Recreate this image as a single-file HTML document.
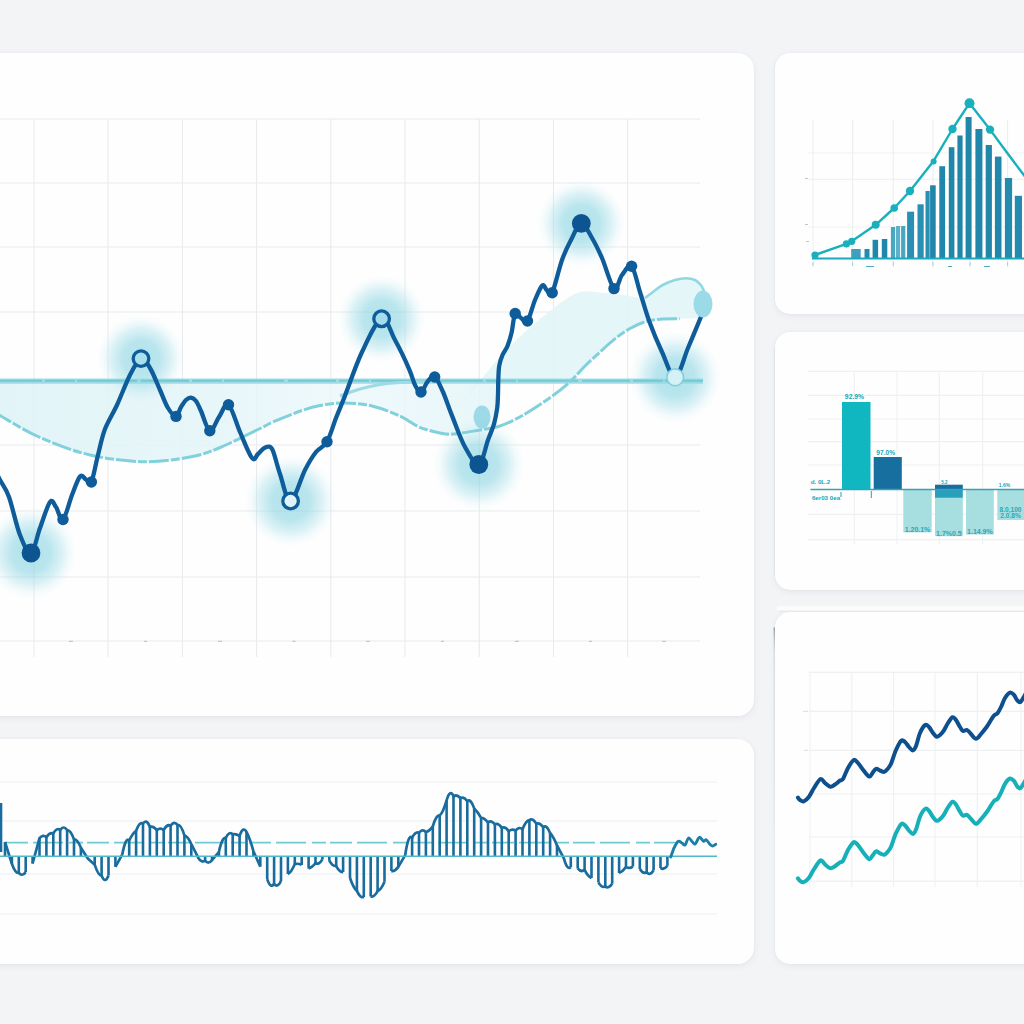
<!DOCTYPE html>
<html>
<head>
<meta charset="utf-8">
<title>Dashboard</title>
<style>
  html, body { margin: 0; padding: 0; }
  body {
    width: 1024px; height: 1024px; overflow: hidden;
    background: #f3f4f6;
    font-family: "Liberation Sans", sans-serif;
    position: relative;
  }
  .card {
    position: absolute;
    background: #fefefe;
    box-shadow: 0 2px 6px rgba(120,125,140,0.10), 0 0 2px rgba(120,125,140,0.08);
  }
  #c-main   { left: -20px; top: 53px;  width: 774px; height: 663px; border-radius: 16px; }
  #c-wave   { left: -20px; top: 739px; width: 774px; height: 225px; border-radius: 16px; }
  #c-bars   { left: 775px; top: 53px;  width: 280px; height: 261px; border-radius: 15px; }
  #c-water  { left: 775px; top: 332px; width: 280px; height: 258px; border-radius: 15px; }
  #c-lines  { left: 775px; top: 612px; width: 280px; height: 352px; border-radius: 15px; }
  svg#art { position: absolute; left: 0; top: 0; width: 1024px; height: 1024px; }
</style>
</head>
<body>
  <div class="card" id="c-main"></div>
  <div class="card" id="c-wave"></div>
  <div class="card" id="c-bars"></div>
  <div class="card" id="c-water"></div>
  <div class="card" id="c-lines"></div>

  <svg id="art" viewBox="0 0 1024 1024">
    <defs>
      <radialGradient id="glow">
        <stop offset="0" stop-color="#7ccfdf" stop-opacity="0.60"/>
        <stop offset="0.42" stop-color="#84d2e1" stop-opacity="0.56"/>
        <stop offset="0.68" stop-color="#9bdbe7" stop-opacity="0.36"/>
        <stop offset="0.87" stop-color="#b9e7ef" stop-opacity="0.13"/>
        <stop offset="1" stop-color="#c8edf3" stop-opacity="0"/>
      </radialGradient>
      <linearGradient id="edge3" x1="0" x2="0" y1="0" y2="1">
        <stop offset="0" stop-color="#6f727a" stop-opacity="0.85"/>
        <stop offset="0.05" stop-color="#8b8e96" stop-opacity="0.6"/>
        <stop offset="0.12" stop-color="#c3c6cc" stop-opacity="0.55"/>
        <stop offset="1" stop-color="#d9dbe0" stop-opacity="0.25"/>
      </linearGradient>
      <linearGradient id="fillL" x1="0" x2="1" y1="0" y2="0">
        <stop offset="0" stop-color="#dff3f7" stop-opacity="0.9"/>
        <stop offset="0.45" stop-color="#e3f5f8" stop-opacity="0.85"/>
        <stop offset="0.7" stop-color="#e9f7fa" stop-opacity="0.7"/>
        <stop offset="1" stop-color="#e3f5f8" stop-opacity="0.85"/>
      </linearGradient>
    </defs>
    <g id="card-edges">
      <rect x="776.5" y="605.8" width="260" height="5" rx="2.5" fill="#fbfbfc"/>
      <path d="M779 611.2H1024" stroke="#e3e5e9" stroke-width="1"/>
      <rect x="773.7" y="627.5" width="1.1" height="200" fill="url(#edge3)"/>
      <rect x="774" y="347" width="1" height="228" fill="#dcdee3" fill-opacity="0.6"/>
    </g>
    <g id="main-grid" stroke="#e8eaee" stroke-width="1.05" fill="none">
      <path d="M0 119H700 M0 183H700 M0 247H700 M0 312H700 M0 445H700 M0 511H700 M0 577H700 M0 641H700"/>
      <path d="M34 119V657 M108 119V657 M182.4 119V657 M256.6 119V657 M330.8 119V657 M405 119V657 M479.3 119V657 M553.5 119V657 M627.7 119V657"/>
      <path d="M69 641.4h4 M144 641.4h3 M218 641.4h4 M292.5 641.4h3 M366 641.4h4 M441 641.4h3 M515 641.4h4 M589 641.4h3 M662 641.4h4" stroke="#c5c8ce" stroke-width="1.2"/>
    </g>
    <g id="main-chart" fill="none">
      <path d="M-6 381H497L497.0 427.0C494.2 427.5 487.2 428.8 480.0 430.0C472.8 431.2 460.7 433.5 454.0 434.0C447.3 434.5 445.8 434.2 440.0 433.0C434.2 431.8 425.7 429.8 419.0 427.0C412.3 424.2 407.8 419.5 400.0 416.0C392.2 412.5 381.3 408.2 372.0 406.0C362.7 403.8 352.7 403.1 344.0 403.0C335.3 402.9 327.0 404.2 320.0 405.5C313.0 406.8 309.8 407.8 302.0 410.5C294.2 413.2 280.2 418.9 273.0 422.0C265.8 425.1 268.0 424.7 259.0 429.0C250.0 433.3 230.5 443.3 219.0 448.0C207.5 452.7 202.4 454.7 190.0 457.0C177.6 459.3 161.2 462.0 144.5 461.7C127.8 461.4 107.6 459.1 90.0 455.0C72.4 450.9 54.0 443.6 39.0 437.0C24.0 430.4 7.5 419.7 0.0 415.5C-7.5 411.3 -5.0 412.6 -6.0 412.0Z" fill="url(#fillL)"/>
      <path d="M460.0 405.0C463.0 401.5 471.6 391.8 478.0 384.0C484.4 376.2 490.8 366.7 498.6 358.0C506.4 349.3 515.3 340.8 525.0 332.0C534.7 323.2 548.7 311.8 557.0 305.5C565.3 299.2 570.1 296.4 575.0 294.0C579.9 291.6 581.5 291.6 586.5 291.4C591.5 291.2 599.1 292.4 605.0 293.0C610.9 293.6 615.0 294.2 621.7 295.0C628.4 295.8 639.8 298.5 645.0 298.0C650.2 297.5 650.0 294.2 653.0 292.0C656.0 289.8 659.0 287.0 662.7 285.0C666.4 283.0 671.1 281.1 675.0 280.0C678.9 278.9 682.7 278.3 686.0 278.3C689.3 278.3 692.5 278.9 695.0 280.0C697.5 281.1 699.3 283.2 700.8 285.0C702.3 286.8 703.5 290.0 704.0 291.0L700 318L680 318.8L680.0 318.8C676.7 318.9 665.8 318.7 660.0 319.2C654.2 319.7 650.0 320.2 645.0 321.8C640.0 323.4 634.8 325.8 630.0 328.5C625.2 331.2 621.0 334.1 616.0 338.0C611.0 341.9 605.2 347.3 600.0 352.0C594.8 356.7 589.9 361.1 585.0 366.0C580.1 370.9 572.9 378.8 570.5 381.3L570.5 381H478Z" fill="#e0f4f7" fill-opacity="0.85"/>
    <g id="main-glows">
      <circle cx="31" cy="553" r="46" fill="url(#glow)"/>
      <circle cx="141" cy="358.6" r="44" fill="url(#glow)"/>
      <circle cx="290.6" cy="501" r="46" fill="url(#glow)"/>
      <circle cx="381.6" cy="318.75" r="44" fill="url(#glow)"/>
      <circle cx="478.8" cy="464.5" r="46" fill="url(#glow)"/>
      <circle cx="581.3" cy="223.4" r="44" fill="url(#glow)"/>
      <circle cx="675.2" cy="377.3" r="46" fill="url(#glow)"/>
    </g>
      <path d="M-6 381.2H703" stroke="#96d8e1" stroke-width="5.2" stroke-opacity="0.9"/>
      <path d="M-6 380.8H703" stroke="#66c2d0" stroke-width="2" stroke-opacity="0.75" stroke-dasharray="48 3 30 2 60 4"/>
      <path d="M-6.0 412.0C-5.0 412.6 -7.5 411.3 0.0 415.5C7.5 419.7 24.0 430.4 39.0 437.0C54.0 443.6 72.4 450.9 90.0 455.0C107.6 459.1 127.8 461.4 144.5 461.7C161.2 462.0 177.6 459.3 190.0 457.0C202.4 454.7 207.5 452.7 219.0 448.0C230.5 443.3 250.0 433.3 259.0 429.0C268.0 424.7 265.8 425.1 273.0 422.0C280.2 418.9 294.2 413.2 302.0 410.5C309.8 407.8 313.0 406.8 320.0 405.5C327.0 404.2 335.3 402.9 344.0 403.0C352.7 403.1 362.7 403.8 372.0 406.0C381.3 408.2 392.2 412.5 400.0 416.0C407.8 419.5 412.3 424.2 419.0 427.0C425.7 429.8 434.2 431.8 440.0 433.0C445.8 434.2 447.3 434.5 454.0 434.0C460.7 433.5 472.6 431.2 480.0 430.0C487.4 428.8 492.8 428.2 498.6 426.5C504.4 424.8 509.8 422.1 515.0 419.5C520.2 416.9 524.0 414.8 530.0 411.0C536.0 407.2 544.2 401.9 551.0 397.0C557.8 392.1 564.8 386.5 570.5 381.3C576.2 376.1 580.1 370.9 585.0 366.0C589.9 361.1 594.8 356.7 600.0 352.0C605.2 347.3 611.0 341.9 616.0 338.0C621.0 334.1 625.2 331.2 630.0 328.5C634.8 325.8 640.0 323.4 645.0 321.8C650.0 320.2 654.2 319.7 660.0 319.2C665.8 318.7 676.7 318.9 680.0 318.8" stroke="#80d1dc" stroke-width="3" stroke-dasharray="20 2 9 2"/>
      <path d="M340.0 396.0C343.3 394.8 353.3 390.9 360.0 389.0C366.7 387.1 373.3 385.6 380.0 384.5C386.7 383.4 391.7 383.0 400.0 382.5C408.3 382.0 425.0 381.7 430.0 381.5" stroke="#9ddbe5" stroke-width="3"/>
      <path d="M645.0 298.0C646.3 297.0 650.0 294.2 653.0 292.0C656.0 289.8 659.0 287.0 662.7 285.0C666.4 283.0 671.1 281.1 675.0 280.0C678.9 278.9 682.7 278.3 686.0 278.3C689.3 278.3 692.5 278.9 695.0 280.0C697.5 281.1 699.3 283.2 700.8 285.0C702.3 286.8 703.5 290.0 704.0 291.0" stroke="#8fd7e1" stroke-width="2.6"/>
      <ellipse cx="482" cy="417" rx="8.5" ry="11.5" fill="#8fd4e3" fill-opacity="0.85"/>
      <path d="M-6.0 468.0C-5.0 470.0 -2.5 475.2 0.0 480.0C2.5 484.8 5.7 487.8 9.0 497.0C12.3 506.2 16.3 525.7 20.0 535.0C23.7 544.3 27.7 554.2 31.0 553.0C34.3 551.8 36.8 536.5 40.0 528.0C43.2 519.5 47.3 505.5 50.0 502.0C52.7 498.5 53.8 504.1 56.0 507.0C58.2 509.9 60.3 521.5 63.0 519.5C65.7 517.5 69.2 502.2 72.0 495.0C74.8 487.8 77.7 479.1 80.0 476.5C82.3 473.9 84.1 478.6 86.0 479.5C87.9 480.4 89.4 486.1 91.4 482.0C93.4 477.9 95.7 463.8 98.0 455.0C100.3 446.2 101.8 437.3 105.0 429.0C108.2 420.7 112.8 414.0 117.0 405.0C121.2 396.0 126.0 382.7 130.0 375.0C134.0 367.3 137.7 359.8 141.0 358.6C144.3 357.4 146.8 362.8 150.0 368.0C153.2 373.2 157.0 383.3 160.0 390.0C163.0 396.7 165.3 403.6 168.0 408.0C170.7 412.4 173.8 416.6 176.0 416.4C178.2 416.2 179.3 409.7 181.0 407.0C182.7 404.3 184.3 401.6 186.0 400.0C187.7 398.4 189.3 397.4 191.0 397.6C192.7 397.8 194.3 398.8 196.0 401.0C197.7 403.2 198.7 406.0 201.0 411.0C203.3 416.0 206.8 429.8 209.8 430.8C212.8 431.8 215.9 421.4 219.0 417.0C222.1 412.6 225.0 402.2 228.5 404.7C232.0 407.2 236.1 423.1 240.0 432.0C243.9 440.9 249.0 454.3 252.0 458.0C255.0 461.7 256.1 455.6 258.0 454.0C259.9 452.4 261.7 449.7 263.5 448.5C265.3 447.3 267.1 446.2 268.7 446.6C270.3 447.0 271.1 446.4 273.0 451.0C274.9 455.6 277.1 465.7 280.0 474.0C282.9 482.3 286.4 501.7 290.6 501.0C294.8 500.3 300.8 478.2 305.0 470.0C309.2 461.8 312.3 456.7 316.0 452.0C319.7 447.3 323.7 447.5 327.0 441.8C330.3 436.1 333.0 425.7 336.0 418.0C339.0 410.3 340.7 406.7 345.0 395.7C349.3 384.7 355.9 364.8 362.0 352.0C368.1 339.2 376.1 320.8 381.6 318.8C387.1 316.8 390.4 331.7 395.0 340.0C399.6 348.3 405.7 361.2 409.0 368.8C412.3 376.2 413.0 381.1 415.0 385.0C417.0 388.9 418.8 392.7 421.0 392.0C423.2 391.3 425.7 383.6 428.0 381.0C430.3 378.4 432.2 374.7 434.7 376.5C437.2 378.3 440.1 385.5 443.0 392.0C445.9 398.5 448.3 406.4 452.0 415.6C455.7 424.8 460.5 438.9 465.0 447.0C469.5 455.1 475.0 465.7 478.8 464.5C482.6 463.3 485.5 446.8 488.0 440.0C490.5 433.2 492.5 429.3 494.0 424.0C495.5 418.7 496.5 413.0 497.2 408.0C497.9 403.0 497.8 398.7 498.0 394.0C498.2 389.3 498.1 384.7 498.3 380.0C498.5 375.3 498.5 370.2 499.2 366.0C499.9 361.8 501.1 358.3 502.5 355.0C503.9 351.7 506.0 349.7 507.5 346.0C509.0 342.3 510.2 338.4 511.5 333.0C512.8 327.6 513.6 316.0 515.2 313.5C516.8 311.0 519.0 316.8 521.0 318.0C523.0 319.2 525.2 324.0 527.5 321.0C529.8 318.0 532.5 305.9 535.0 300.0C537.5 294.1 540.3 287.1 542.3 285.5C544.3 283.9 545.4 289.3 547.0 290.5C548.6 291.7 549.7 297.9 552.2 292.8C554.7 287.7 558.9 268.8 562.0 260.0C565.1 251.2 567.8 246.1 571.0 240.0C574.2 233.9 577.8 223.7 581.3 223.4C584.8 223.1 588.5 232.2 592.0 238.0C595.5 243.8 598.3 249.6 602.0 258.0C605.7 266.4 610.7 285.8 614.0 288.6C617.3 291.4 619.1 278.7 622.0 275.0C624.9 271.3 628.6 263.5 631.6 266.3C634.6 269.1 637.0 282.7 640.0 292.0C643.0 301.3 645.8 312.0 649.5 322.0C653.2 332.0 657.7 342.8 662.0 352.0C666.3 361.2 670.9 378.0 675.2 377.3C679.5 376.6 683.8 357.9 688.0 348.0C692.2 338.1 698.2 323.7 700.5 318.0C702.8 312.3 701.8 314.7 702.0 314.0" stroke="#0f5c9a" stroke-width="4.3" stroke-linecap="round" stroke-linejoin="round"/>
      <ellipse cx="703" cy="304" rx="9.5" ry="13.6" fill="#9bdbe8"/>
      <circle cx="63" cy="519.5" r="5.7" fill="#0f5c9a"/>
      <circle cx="91.4" cy="482" r="5.7" fill="#0f5c9a"/>
      <circle cx="176" cy="416.4" r="5.7" fill="#0f5c9a"/>
      <circle cx="209.8" cy="430.8" r="5.7" fill="#0f5c9a"/>
      <circle cx="228.5" cy="404.7" r="5.7" fill="#0f5c9a"/>
      <circle cx="327" cy="441.8" r="5.7" fill="#0f5c9a"/>
      <circle cx="421" cy="392" r="5.7" fill="#0f5c9a"/>
      <circle cx="434.7" cy="377" r="5.7" fill="#0f5c9a"/>
      <circle cx="515.2" cy="313.5" r="5.7" fill="#0f5c9a"/>
      <circle cx="527.5" cy="321" r="5.7" fill="#0f5c9a"/>
      <circle cx="552.2" cy="292.8" r="5.7" fill="#0f5c9a"/>
      <circle cx="614" cy="288.6" r="5.7" fill="#0f5c9a"/>
      <circle cx="631.6" cy="266.3" r="5.7" fill="#0f5c9a"/>
      <circle cx="31" cy="553" r="9.4" fill="#0d5591"/>
      <circle cx="478.8" cy="464.5" r="9.4" fill="#0d5591"/>
      <circle cx="581.3" cy="223.4" r="9.4" fill="#0d5591"/>
      <circle cx="141" cy="358.6" r="7.8" fill="#aadfec" stroke="#0f5c9a" stroke-width="3.3"/>
      <circle cx="290.6" cy="501" r="7.8" fill="#dff4f9" stroke="#0f5c9a" stroke-width="3.3"/>
      <circle cx="381.6" cy="318.75" r="7.8" fill="#a3dcea" stroke="#0f5c9a" stroke-width="3.3"/>
      <circle cx="675.2" cy="377.3" r="8.4" fill="#d6f1f6" stroke="#7fd0dc" stroke-width="1.6"/>
    </g>
    <g id="wave-chart" fill="none">
      <path d="M0 782H717 M0 821H717 M0 874H717 M0 914H717" stroke="#ebedef" stroke-width="1.2"/>
      <path d="M6 842.6H682" stroke="#6ecbd4" stroke-width="1.6" stroke-dasharray="22 5 30 6 14 4"/>
      <path d="M5.0 856V842.0M11.9 856V863.8M18.8 856V872.8M25.7 856V872.1M32.6 856V863.5M39.5 856V838.2M46.4 856V837.1M53.3 856V833.4M60.2 856V830.0M67.1 856V830.1M74.0 856V839.2M80.9 856V847.7M94.7 856V864.7M101.6 856V875.8M108.5 856V875.5M115.4 856V866.8M129.2 856V840.5M136.1 856V830.8M143.0 856V823.6M149.9 856V826.9M156.8 856V830.1M163.7 856V830.0M170.6 856V825.7M177.5 856V824.9M184.4 856V835.3M191.3 856V844.0M205.1 856V860.5M212.0 856V860.2M218.9 856V852.0M225.8 856V838.0M232.7 856V834.3M239.6 856V835.9M246.5 856V831.9M253.4 856V851.2M260.3 856V866.6M267.2 856V879.1M274.1 856V883.8M281.0 856V881.0M287.9 856V873.9M294.8 856V864.1M301.7 856V864.9M308.6 856V868.4M315.5 856V863.0M322.4 856V859.4M329.3 856V860.7M336.2 856V866.2M343.1 856V872.0M350.0 856V878.0M356.9 856V890.9M363.8 856V896.9M370.7 856V896.4M377.6 856V891.2M384.5 856V881.7M391.4 856V870.9M398.3 856V866.9M412.1 856V837.9M419.0 856V832.8M425.9 856V832.0M432.8 856V826.4M439.7 856V815.5M446.6 856V800.4M453.5 856V796.4M460.4 856V798.2M467.3 856V801.2M474.2 856V808.4M481.1 856V817.9M488.0 856V822.5M494.9 856V824.4M501.8 856V827.9M508.7 856V831.3M515.6 856V830.6M522.5 856V829.3M529.4 856V820.2M536.3 856V823.7M543.2 856V827.3M550.1 856V832.9M557.0 856V845.5M570.8 856V867.1M577.7 856V868.4M584.6 856V869.9M591.5 856V877.9M598.4 856V882.3M605.3 856V886.6M612.2 856V883.7M619.1 856V872.9M626.0 856V867.1M632.9 856V866.6M639.8 856V868.9M646.7 856V872.3M653.6 856V870.2M660.5 856V867.9M667.4 856V865.7" stroke="#196c9d" stroke-width="2.6"/>
      <path d="M1 803V852" stroke="#196c9d" stroke-width="2.6"/>
      <path d="M5.0 842.0L11.9 863.8Q15.4 873.9 18.8 872.8Q22.2 877.0 25.7 872.1M32.6 863.5L39.5 838.2Q43.0 834.0 46.4 837.1Q49.8 832.4 53.3 833.4Q56.8 827.1 60.2 830.0Q63.6 825.0 67.1 830.1Q70.5 829.7 74.0 839.2Q77.5 839.5 80.9 847.7L87.8 858.5L94.7 864.7Q98.2 875.7 101.6 875.8Q105.1 884.3 108.5 875.5M115.4 866.8L122.3 854.3Q125.8 836.5 129.2 840.5Q132.7 832.9 136.1 830.8Q139.6 821.1 143.0 823.6Q146.5 818.2 149.9 826.9Q153.4 825.9 156.8 830.1Q160.3 827.1 163.7 830.0Q167.2 823.8 170.6 825.7Q174.1 820.4 177.5 824.9Q181.0 824.2 184.4 835.3Q187.9 836.6 191.3 844.0L198.2 857.7Q201.7 863.4 205.1 860.5Q208.6 864.7 212.0 860.2L218.9 852.0Q222.4 836.4 225.8 838.0Q229.3 830.7 232.7 834.3Q236.2 833.7 239.6 835.9Q243.1 825.6 246.5 831.9Q250.0 838.6 253.4 851.2L260.3 866.6M267.2 879.1Q270.7 889.3 274.1 883.8Q277.6 888.3 281.0 881.0M287.9 873.9Q291.4 872.4 294.8 864.1Q298.2 863.1 301.7 864.9M308.6 868.4Q312.0 867.7 315.5 863.0Q318.9 865.2 322.4 859.4M329.3 860.7Q332.7 866.6 336.2 866.2Q339.6 872.5 343.1 872.0M350.0 878.0Q353.4 888.0 356.9 890.9Q360.3 898.7 363.8 896.9M370.7 896.4Q374.1 897.7 377.6 891.2Q381.0 889.9 384.5 881.7M391.4 870.9Q394.8 871.8 398.3 866.9L405.2 855.1Q408.6 832.7 412.1 837.9Q415.5 831.2 419.0 832.8Q422.4 828.3 425.9 832.0Q429.3 831.3 432.8 826.4Q436.2 814.5 439.7 815.5Q443.1 812.6 446.6 800.4Q450.0 788.2 453.5 796.4Q456.9 794.0 460.4 798.2Q463.8 796.1 467.3 801.2Q470.7 798.2 474.2 808.4Q477.6 811.5 481.1 817.9Q484.5 817.9 488.0 822.5Q491.4 819.7 494.9 824.4Q498.3 822.7 501.8 827.9Q505.2 826.1 508.7 831.3Q512.1 828.5 515.6 830.6Q519.0 826.2 522.5 829.3Q525.9 820.7 529.4 820.2Q532.8 817.6 536.3 823.7Q539.7 822.5 543.2 827.3Q546.6 824.1 550.1 832.9Q553.5 836.8 557.0 845.5L563.9 858.4Q567.3 870.8 570.8 867.1M577.7 868.4Q581.1 872.6 584.6 869.9Q588.0 876.9 591.5 877.9M598.4 882.3Q601.8 888.2 605.3 886.6Q608.7 888.9 612.2 883.7M619.1 872.9Q622.5 871.7 626.0 867.1Q629.4 869.0 632.9 866.6M639.8 868.9Q643.2 874.1 646.7 872.3Q650.1 876.1 653.6 870.2M660.5 867.9Q663.9 870.4 667.4 865.7" stroke="#196c9d" stroke-width="2.7" stroke-linejoin="round"/>
      <path d="M0 856.3H717" stroke="#4fb9cb" stroke-width="1.6"/>
      <path d="M670.7 857.0C671.0 856.2 671.9 853.7 672.5 852.0C673.1 850.3 673.5 848.8 674.5 847.0C675.5 845.2 677.0 842.0 678.3 841.3C679.5 840.6 680.9 842.4 682.0 843.0C683.1 843.6 683.9 845.8 685.0 845.0C686.1 844.2 687.3 838.5 688.5 838.0C689.7 837.5 691.2 840.8 692.3 841.8C693.4 842.8 694.1 844.6 695.3 843.9C696.5 843.1 698.0 837.7 699.4 837.3C700.8 836.9 702.6 840.9 703.7 841.3C704.8 841.7 705.2 839.3 706.2 839.8C707.2 840.3 708.9 843.4 710.0 844.4C711.1 845.4 711.6 846.0 712.6 846.0C713.6 846.0 715.3 844.5 715.8 844.2" stroke="#1a7ea6" stroke-width="2.9" stroke-linecap="round"/>
    </g>
    <g id="bars-chart" fill="none">
      <path d="M813 119.4V267 M852.6 119.4V267 M893.3 119.4V267 M932.9 119.4V267 M970 119.4V267 M1007.6 119.4V267" stroke="#eceef1" stroke-width="1.1"/>
      <path d="M808 153H1024 M808 179.4H1024 M808 227H1024" stroke="#f0f1f4" stroke-width="1.1"/>
      <rect x="851.2" y="249" width="9.5" height="9.5" fill="#3f9fbd"/>
      <rect x="864.5" y="249" width="5" height="9.5" fill="#2389ad"/>
      <rect x="872.6" y="239.8" width="5.5" height="18.7" fill="#2087ab"/>
      <rect x="881.8" y="239" width="5.5" height="19.5" fill="#2087ab"/>
      <rect x="890.9" y="227" width="4.2" height="31.5" fill="#4aa7c2"/>
      <rect x="895.9" y="226" width="4.2" height="32.5" fill="#5db2c9"/>
      <rect x="901.1" y="226" width="4.2" height="32.5" fill="#4aa7c2"/>
      <rect x="907.1" y="211.7" width="7" height="46.8" fill="#2a8fb2"/>
      <rect x="917.5" y="204.3" width="6.2" height="54.2" fill="#2a8fb2"/>
      <rect x="925.5" y="191" width="4.2" height="67.5" fill="#2a8fb2"/>
      <rect x="930.1" y="185.3" width="5.6" height="73.2" fill="#2087ab"/>
      <rect x="939.3" y="166.2" width="5.8" height="92.3" fill="#2087ab"/>
      <rect x="948.8" y="147.2" width="5.6" height="111.3" fill="#2087ab"/>
      <rect x="957.4" y="135.5" width="5.2" height="123.0" fill="#2087ab"/>
      <rect x="965.6" y="117" width="6" height="141.5" fill="#2087ab"/>
      <rect x="975.4" y="129" width="7" height="129.5" fill="#2087ab"/>
      <rect x="985.7" y="145" width="6.2" height="113.5" fill="#2087ab"/>
      <rect x="994.9" y="156.6" width="6.6" height="101.9" fill="#2087ab"/>
      <rect x="1004.9" y="178" width="7.2" height="80.5" fill="#258bae"/>
      <rect x="1014.8" y="195.8" width="7.2" height="62.7" fill="#258bae"/>
      <path d="M812 258.5H1024" stroke="#1aa9ba" stroke-width="1.8"/>
      <path d="M815 255L846.4 243.9L851.7 241.3L875.7 224.8L894.2 208L910 191L933 161.8L952.5 129L969.5 103.2L990 129.6L1008 154L1026 178" stroke="#18b0bc" stroke-width="2.4" stroke-linejoin="round" stroke-linecap="round"/>
      <circle cx="815" cy="255" r="3.6" fill="#18b0bc"/>
      <circle cx="846.4" cy="243.9" r="3.6" fill="#18b0bc"/>
      <circle cx="851.7" cy="241.3" r="3.6" fill="#18b0bc"/>
      <circle cx="875.7" cy="224.8" r="4" fill="#18b0bc"/>
      <circle cx="894.2" cy="208" r="3.8" fill="#18b0bc"/>
      <circle cx="910" cy="191" r="4.2" fill="#18b0bc"/>
      <circle cx="933.6" cy="161.5" r="3" fill="#18b0bc"/>
      <circle cx="952.5" cy="129" r="4.2" fill="#18b0bc"/>
      <circle cx="969.5" cy="103.2" r="5" fill="#18b0bc"/>
      <circle cx="990" cy="129.6" r="4.2" fill="#18b0bc"/>
      <path d="M813 262v4 M852.6 262v4 M893.3 262v4 M932.9 262v4 M970 262v4 M1007.6 262v4" stroke="#9fd3da" stroke-width="1"/>
      <path d="M866 266.5h8 M948 266.5h4 M984 266.5h6" stroke="#4fa9bb" stroke-width="1"/>
      <path d="M805 178.5h3 M805 224.5h3 M806 241.5h3" stroke="#b9c6cf" stroke-width="1"/>
    </g>
    <g id="water-chart" fill="none">
      <path d="M808 371.3H1024 M808 395.3H1024 M808 419H1024 M808 441.6H1024 M808 465H1024 M808 514.3H1024 M808 539.7H1024" stroke="#eff0f3" stroke-width="1.2"/>
      <path d="M854.3 371V544 M897 371V544 M939.3 371V544 M982.7 371V544" stroke="#eff0f3" stroke-width="1.1"/>
      <rect x="842.0" y="402.0" width="28.5" height="87.4" fill="#10b7c1"/>
      <rect x="873.7" y="457.0" width="28.1" height="32.4" fill="#176f9f"/>
      <rect x="903.3" y="489.4" width="28.4" height="43.0" fill="#a7dedf"/>
      <rect x="935.0" y="497.8" width="27.8" height="38.4" fill="#a7dedf"/>
      <rect x="935.0" y="489.4" width="27.8" height="8.4" fill="#27a0bb"/>
      <rect x="935.0" y="484.7" width="27.8" height="4.7" fill="#176f9f"/>
      <rect x="966.0" y="489.4" width="27.8" height="45.1" fill="#a7dedf"/>
      <rect x="997.3" y="489.4" width="28.7" height="30.6" fill="#a7dedf"/>
      <path d="M810.4 489.4H1024" stroke="#3aa0b9" stroke-width="1.5"/>
      <path d="M841 492v5 M871.3 491v7" stroke="#2f9db4" stroke-width="1"/>
      <text x="854.5" y="399.3" font-family="Liberation Sans, sans-serif" font-size="6.8" font-weight="bold" fill="#16a5b6" text-anchor="middle">92.9%</text>
      <text x="885.7" y="454.8" font-family="Liberation Sans, sans-serif" font-size="6.6" font-weight="bold" fill="#16a5b6" text-anchor="middle">97.0%</text>
      <text x="820.5" y="484.3" font-family="Liberation Sans, sans-serif" font-size="6.2" font-weight="bold" fill="#16a5b6" text-anchor="middle">d. 0L.2</text>
      <text x="826" y="499.8" font-family="Liberation Sans, sans-serif" font-size="6.2" font-weight="bold" fill="#16a5b6" text-anchor="middle">6er03 0ea</text>
      <text x="944.5" y="483.5" font-family="Liberation Sans, sans-serif" font-size="4.5" font-weight="bold" fill="#16a5b6" text-anchor="middle">5.2</text>
      <text x="1004.5" y="486.5" font-family="Liberation Sans, sans-serif" font-size="5" font-weight="bold" fill="#16a5b6" text-anchor="middle">1.6%</text>
      <text x="917.5" y="532" font-family="Liberation Sans, sans-serif" font-size="7" font-weight="bold" fill="#2aa9b8" text-anchor="middle">1.20.1%</text>
      <text x="948.9" y="535.6" font-family="Liberation Sans, sans-serif" font-size="7" font-weight="bold" fill="#2aa9b8" text-anchor="middle">1.7%0.5</text>
      <text x="979.9" y="533.8" font-family="Liberation Sans, sans-serif" font-size="7" font-weight="bold" fill="#2aa9b8" text-anchor="middle">1.14.9%</text>
      <text x="1010.5" y="511.5" font-family="Liberation Sans, sans-serif" font-size="6.6" font-weight="bold" fill="#2aa9b8" text-anchor="middle">8.0,100</text>
      <text x="1010.5" y="518.2" font-family="Liberation Sans, sans-serif" font-size="6.6" font-weight="bold" fill="#2aa9b8" text-anchor="middle">2.0.8%</text>
    </g>
    <g id="lines-chart" fill="none">
      <path d="M808.8 672.3H1024 M808.8 711.3H1024 M808.8 750.4H1024 M808.8 794H1024 M808.8 837H1024 M808.8 881.2H1024" stroke="#eef0f3" stroke-width="1.2"/>
      <path d="M810 672V887 M851.8 672V887 M893.6 672V887 M935 672V887 M977.2 672V887 M1021 672V887" stroke="#eef0f3" stroke-width="1.1"/>
      <path d="M803 711.3h5 M804 750.4h4" stroke="#dfe3e8" stroke-width="1.2"/>
      <path d="M797.9 797.5C798.2 797.9 799.0 799.4 800.0 800.0C801.0 800.6 802.3 801.8 803.8 801.3C805.2 800.8 807.1 799.2 808.8 797.0C810.5 794.8 812.0 791.0 814.0 788.0C816.0 785.0 818.7 779.8 820.5 779.0C822.3 778.2 823.4 781.7 825.0 783.0C826.6 784.3 828.6 786.5 830.3 786.7C832.0 787.0 833.4 785.5 835.0 784.5C836.6 783.5 838.7 781.4 840.0 780.5C841.3 779.6 841.7 781.1 843.0 779.0C844.3 776.9 846.2 771.2 848.0 768.0C849.8 764.8 852.1 760.8 853.8 760.0C855.4 759.2 856.3 761.2 858.0 763.0C859.7 764.8 862.1 768.7 864.0 771.0C865.9 773.3 868.0 776.3 869.4 776.6C870.8 776.9 871.4 774.3 872.5 773.0C873.6 771.7 874.8 769.2 876.0 768.8C877.2 768.3 878.6 770.0 880.0 770.5C881.4 771.0 883.0 772.1 884.2 771.9C885.5 771.6 886.4 770.3 887.5 769.0C888.6 767.7 889.5 767.2 890.9 764.0C892.3 760.8 894.2 753.9 896.0 750.0C897.8 746.1 899.9 741.9 901.4 740.6C902.9 739.3 903.7 740.9 905.0 742.0C906.3 743.1 907.7 745.6 909.0 747.0C910.3 748.4 911.8 750.6 913.0 750.4C914.2 750.2 914.8 748.9 916.0 746.0C917.2 743.1 918.5 736.5 920.0 733.0C921.5 729.5 923.7 726.0 925.2 725.0C926.7 724.0 927.7 725.7 929.0 727.0C930.3 728.3 931.7 731.4 933.0 733.0C934.3 734.6 935.4 736.4 936.6 736.7C937.8 737.0 938.8 736.0 940.0 735.0C941.2 734.0 942.3 732.9 943.6 730.9C944.9 728.9 946.5 725.3 948.0 723.0C949.5 720.7 951.3 717.7 952.6 717.2C953.9 716.7 954.8 718.4 956.0 720.0C957.2 721.6 958.8 725.2 960.0 727.0C961.2 728.8 961.8 730.4 963.0 730.9C964.2 731.4 965.7 729.5 967.0 730.0C968.3 730.5 969.5 732.5 971.0 734.0C972.5 735.5 974.3 738.7 976.0 738.7C977.7 738.7 979.2 736.0 981.0 734.0C982.8 732.0 984.9 729.3 986.6 727.0C988.3 724.7 989.7 722.0 991.0 720.0C992.3 718.0 993.3 716.3 994.4 715.2C995.5 714.1 996.4 714.7 997.5 713.3C998.6 711.9 999.8 709.5 1001.0 707.0C1002.2 704.5 1003.5 700.4 1005.0 698.0C1006.5 695.6 1008.5 693.1 1010.0 692.6C1011.5 692.1 1012.8 693.8 1014.0 695.0C1015.2 696.2 1016.0 698.8 1017.0 700.0C1018.0 701.2 1019.0 702.3 1019.8 702.3C1020.6 702.3 1021.0 701.5 1022.0 700.0C1023.0 698.5 1025.3 694.2 1026.0 693.0" stroke="#0e4f8d" stroke-width="4" stroke-linecap="round" stroke-linejoin="round"/>
      <path d="M797.9 878.3C798.2 878.7 799.0 880.2 800.0 880.8C801.0 881.5 802.3 882.7 803.8 882.2C805.2 881.8 807.1 880.2 808.8 878.1C810.5 875.9 812.0 872.1 814.0 869.2C816.0 866.2 818.7 861.1 820.5 860.3C822.3 859.6 823.4 863.1 825.0 864.4C826.6 865.8 828.6 868.0 830.3 868.3C832.0 868.6 833.4 867.2 835.0 866.2C836.6 865.2 838.7 863.2 840.0 862.3C841.3 861.4 841.7 862.9 843.0 860.9C844.3 858.8 846.2 853.1 848.0 850.0C849.8 846.9 852.1 842.9 853.8 842.1C855.4 841.3 856.3 843.4 858.0 845.2C859.7 847.1 862.1 851.1 864.0 853.4C865.9 855.7 868.0 858.7 869.4 859.1C870.8 859.5 871.4 856.9 872.5 855.6C873.6 854.3 874.8 851.8 876.0 851.4C877.2 851.0 878.6 852.7 880.0 853.3C881.4 853.8 883.0 855.0 884.2 854.8C885.5 854.5 886.4 853.2 887.5 851.9C888.6 850.7 889.5 850.2 890.9 847.0C892.3 843.9 894.2 837.0 896.0 833.2C897.8 829.3 899.9 825.2 901.4 823.9C902.9 822.6 903.7 824.3 905.0 825.4C906.3 826.5 907.7 829.0 909.0 830.5C910.3 831.9 911.8 834.1 913.0 834.0C914.2 833.8 914.8 832.5 916.0 829.6C917.2 826.8 918.5 820.2 920.0 816.7C921.5 813.3 923.7 809.8 925.2 808.9C926.7 807.9 927.7 809.6 929.0 810.9C930.3 812.3 931.7 815.4 933.0 817.0C934.3 818.7 935.4 820.5 936.6 820.8C937.8 821.2 938.8 820.1 940.0 819.2C941.2 818.3 942.3 817.2 943.6 815.2C944.9 813.2 946.5 809.6 948.0 807.4C949.5 805.2 951.3 802.2 952.6 801.7C953.9 801.2 954.8 802.9 956.0 804.6C957.2 806.3 958.8 809.8 960.0 811.7C961.2 813.5 961.8 815.1 963.0 815.7C964.2 816.2 965.7 814.3 967.0 814.9C968.3 815.4 969.5 817.5 971.0 819.0C972.5 820.4 974.3 823.7 976.0 823.8C977.7 823.8 979.2 821.1 981.0 819.2C982.8 817.3 984.9 814.6 986.6 812.3C988.3 810.0 989.7 807.4 991.0 805.4C992.3 803.5 993.3 801.8 994.4 800.7C995.5 799.6 996.4 800.2 997.5 798.9C998.6 797.5 999.8 795.2 1001.0 792.7C1002.2 790.2 1003.5 786.1 1005.0 783.8C1006.5 781.4 1008.5 779.0 1010.0 778.5C1011.5 778.0 1012.8 779.7 1014.0 781.0C1015.2 782.2 1016.0 784.8 1017.0 786.1C1018.0 787.3 1019.0 788.4 1019.8 788.4C1020.6 788.4 1021.0 787.7 1022.0 786.2C1023.0 784.7 1025.3 780.4 1026.0 779.3" stroke="#17b0b9" stroke-width="4" stroke-linecap="round" stroke-linejoin="round"/>
    </g>
  </svg>
</body>
</html>
